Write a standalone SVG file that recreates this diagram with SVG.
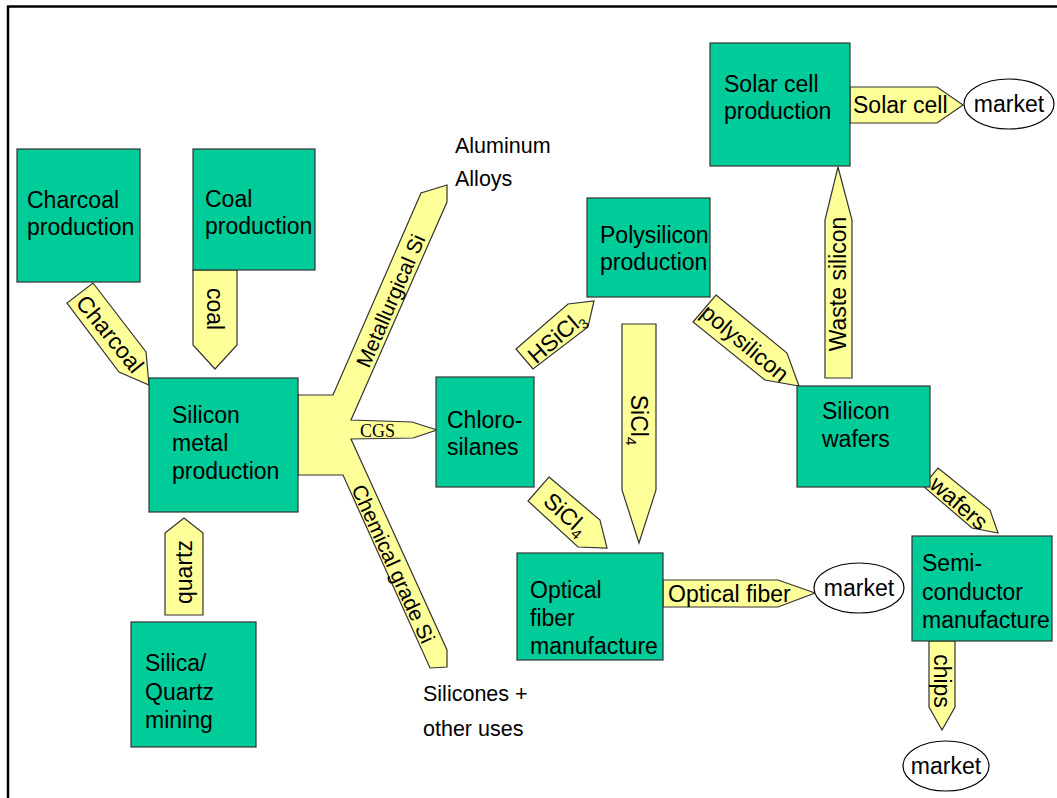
<svg xmlns="http://www.w3.org/2000/svg" width="1057" height="798" viewBox="0 0 1057 798">
<style>
.box{fill:#00CC99;stroke:#333;stroke-width:1.2}
.arr{fill:#FFFF99;stroke:#333;stroke-width:1.2;stroke-linejoin:miter}
.mk{fill:#fff;stroke:#000;stroke-width:1.2}
text{font-family:"Liberation Sans",Arial,sans-serif;font-size:23px;fill:#000}
.sm{font-size:21px}
.lbl{font-size:21.5px}
.c{text-anchor:middle}
.serif{font-family:"Liberation Serif","Times New Roman",serif;font-size:18px}
</style>
<rect width="1057" height="798" fill="#fff"/>
<g id="frame" stroke="#000" stroke-width="2.5" fill="none">
<line x1="7" y1="6.5" x2="1057" y2="6.5"/>
<line x1="8" y1="6" x2="8" y2="798"/>
</g>
<g id="connectors">
<g id="c-charcoal"><polygon class="arr" points="93,283 146,352 149,385 119,372 67,303"/><text class="c" transform="translate(110,334) rotate(51)" dy="8">Charcoal</text></g>
<g id="c-coal"><polygon class="arr" points="193,270 237,270 237,345 215,369 193,345"/><text class="c" transform="translate(215,309) rotate(90)" dy="8">coal</text></g>
<g id="c-quartz"><polygon class="arr" points="165,615 165,533 184,518 203,533 203,615"/><text class="c" transform="translate(184,572) rotate(-90)" dy="8">quartz</text></g>
<g id="c-silicon-out"><polygon class="arr" points="298,395 333,395 421,193 447,185 447,202 351,420 412,422 437,430 413,438 351,439 447,650 447,667 430,668 343,475 298,475"/>
<text class="sm c" transform="translate(391,301) rotate(-66.5)" dy="7">Metallurgical Si</text>
<text class="serif" x="360" y="437">CGS</text>
<text class="sm c" transform="translate(393,564) rotate(65.5)" dy="7">Chemical grade Si</text></g>
<g id="c-hsicl3"><polygon class="arr" points="516,349 568,304 594,301 588,327 533,369"/><text class="c" transform="translate(556,337) rotate(-41)" dy="8">HSiCl<tspan font-size="14" dy="5">3</tspan></text></g>
<g id="c-sicl4-v"><polygon class="arr" points="622,324 656,324 656,490 639,543 622,490"/><text class="c" transform="translate(639,420) rotate(90)" dy="8">SiCl<tspan font-size="15" dy="5">4</tspan></text></g>
<g id="c-sicl4-d"><polygon class="arr" points="549,477 600,520 607,548 578,547 528,501"/><text class="c" transform="translate(566,514) rotate(42)" dy="8">SiCl<tspan font-size="15" dy="5">4</tspan></text></g>
<g id="c-polysilicon"><polygon class="arr" points="716,295 787,353 799,386 765,380 693,322"/><text class="c" transform="translate(745,343) rotate(40)" dy="8">polysilicon</text></g>
<g id="c-waste"><polygon class="arr" points="825,378 825,220 838,167 852,220 852,378"/><text class="c" transform="translate(838,284) rotate(-90)" dy="8">Waste silicon</text></g>
<g id="c-solar"><polygon class="arr" points="850,87 937,87 963,105 937,123 850,123"/><text x="853" y="113">Solar cell</text></g>
<g id="c-wafers"><polygon class="arr" points="938,468 990,510 998,533 972,528 923,486"/><text class="c" transform="translate(959,503) rotate(41)" dy="8">wafers</text></g>
<g id="c-chips"><polygon class="arr" points="929,641 955,641 955,707 942,730 929,707"/><text class="c" transform="translate(942,681) rotate(90)" dy="8">chips</text></g>
<g id="c-optical"><polygon class="arr" points="663,580 778,580 815,593 778,607 663,607"/><text x="668" y="602">Optical fiber</text></g>
</g>
<g id="charcoal-production"><rect class="box" x="17" y="149" width="123" height="133"/><text x="27" y="208">Charcoal</text><text x="27" y="235">production</text></g>
<g id="coal-production"><rect class="box" x="193" y="149" width="122" height="121"/><text x="205" y="207">Coal</text><text x="205" y="234">production</text></g>
<g id="silicon-metal-production"><rect class="box" x="149" y="378" width="149" height="134"/><text x="172" y="423">Silicon</text><text x="172" y="451">metal</text><text x="172" y="479">production</text></g>
<g id="silica-quartz-mining"><rect class="box" x="131" y="622" width="125" height="125"/><text x="145" y="671">Silica/</text><text x="145" y="700">Quartz</text><text x="145" y="728">mining</text></g>
<g id="aluminum-alloys"><text class="lbl" x="455" y="153">Aluminum</text><text class="lbl" x="455" y="186">Alloys</text></g>
<g id="silicones"><text class="lbl" x="423" y="701">Silicones +</text><text class="lbl" x="423" y="736">other uses</text></g>
<g id="chlorosilanes"><rect class="box" x="436" y="377" width="98" height="110"/><text x="447" y="428">Chloro-</text><text x="447" y="455">silanes</text></g>
<g id="polysilicon-production"><rect class="box" x="587" y="198" width="123" height="99"/><text x="600" y="243">Polysilicon</text><text x="600" y="270">production</text></g>
<g id="solar-cell-production"><rect class="box" x="710" y="43" width="140" height="123"/><text x="724" y="92">Solar cell</text><text x="724" y="119">production</text></g>
<g id="silicon-wafers"><rect class="box" x="797" y="386" width="133" height="101"/><text x="822" y="419">Silicon</text><text x="822" y="447">wafers</text></g>
<g id="optical-fiber-manufacture"><rect class="box" x="517" y="553" width="146" height="107"/><text x="530" y="598">Optical</text><text x="530" y="626">fiber</text><text x="530" y="654">manufacture</text></g>
<g id="semiconductor-manufacture"><rect class="box" x="912" y="536" width="140" height="105"/><text x="922" y="571">Semi-</text><text x="922" y="600">conductor</text><text x="922" y="628">manufacture</text></g>
<g id="market-solar"><ellipse class="mk" cx="1009" cy="104" rx="45" ry="25"/><text class="c" x="1009" y="112">market</text></g>
<g id="market-optical"><ellipse class="mk" cx="859" cy="588" rx="45" ry="25"/><text class="c" x="859" y="596">market</text></g>
<g id="market-chips"><ellipse class="mk" cx="946" cy="766" rx="43" ry="25"/><text class="c" x="946" y="774">market</text></g>
</svg>
